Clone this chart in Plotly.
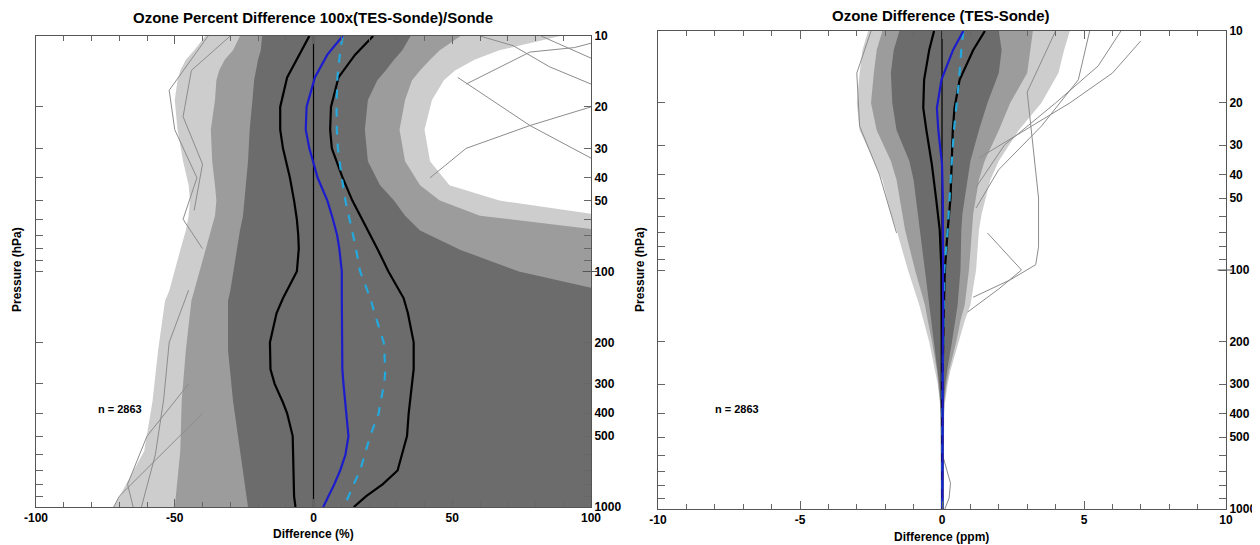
import plotly.graph_objects as go

# ---------------- Left panel: percent difference ----------------
P_STAT_L = [10, 12, 15, 20, 25, 30, 40, 50, 60, 70, 80, 100, 130, 150, 200, 260, 300, 360, 400, 500, 600, 700, 800, 900, 1000]
MEAN_L = [10.5, 5.0, 0.5, -2.5, -2.8, -1.5, 1.5, 5.0, 7.0, 8.5, 9.3, 10.2, 10.2, 10.2, 10.2, 10.4, 10.8, 11.4, 11.8, 12.6, 11.5, 9.6, 7.5, 5.3, 3.5]
RMS_L = [10.5, 9.5, 8.6, 8.3, 8.4, 8.8, 10.2, 11.5, 13.0, 14.3, 15.3, 16.8, 20.5, 22.0, 25.3, 25.9, 25.5, 24.1, 23.5, 20.4, 18.5, 16.8, 14.5, 12.5, 11.0]
LOW_L = [-1.5, -5.0, -9.5, -12.0, -12.0, -11.0, -8.5, -7.0, -6.0, -5.5, -5.3, -6.0, -11.0, -13.3, -15.7, -15.5, -14.0, -11.0, -9.5, -7.5, -7.3, -7.3, -7.0, -7.0, -6.5]
HIGH_L = [21.5, 15.0, 9.0, 6.3, 6.0, 6.6, 10.5, 14.0, 17.5, 20.5, 23.0, 27.0, 32.5, 34.0, 36.1, 36.1, 35.5, 34.7, 34.3, 33.7, 32.0, 30.3, 25.0, 19.0, 14.5]

P_ENV_L = [10, 11.5, 12.6, 14, 15.4, 18.7, 25, 34, 43, 50, 58, 67, 81, 100, 121, 133, 216, 355, 578, 1000]
SPARSE_LO_L = [-39, -43, -46, -48, -49, -50, -49, -47, -45, -44.5, -45, -46, -48, -50, -52, -53.5, -56, -58, -61, -72]
SPARSE_HI_L = [89, 67, 58, 51, 47, 42.7, 40, 42, 49, 67, 105, 105, 105, 105, 105, 105, 105, 105, 105, 105]
MED_LO_L = [-26.5, -29, -32, -34, -35, -35.5, -37, -36.5, -35.5, -35, -35.5, -37, -39, -41, -43, -44, -46, -47.5, -48, -50]
MED_HI_L = [53, 45.5, 42, 38.4, 35.5, 33, 31, 33, 38.4, 45.5, 60, 105, 105, 105, 105, 105, 105, 105, 105, 105]
DENSE_LO_L = [-18.5, -19, -20, -20.7, -21.4, -22, -23, -23.6, -24.3, -24.7, -25.4, -26.5, -27.6, -29, -30, -30.8, -30.8, -29, -26.5, -23.6]
DENSE_HI_L = [35, 32, 29, 26, 23, 19.6, 18.5, 19.6, 24, 29, 33, 38.4, 53, 74, 105, 105, 105, 105, 105, 105]

OUT_P_L = [[15, 24, 33, 40], [40, 30, 24, 20, 18], [16, 11.7, 11.2, 10], [10, 17, 25, 40, 60, 80],
           [300, 500, 800, 1000], [400, 600, 900, 1000], [10, 12.5, 14], [10, 11, 13.5, 16],
           [10, 14, 22, 35, 55], [120, 200, 350, 600, 1000]]
OUT_X_L = [[52, 78, 100, 110], [42, 55, 78, 100, 110], [55, 78, 94, 110], [-38, -52, -50, -42, -47, -40],
           [-45, -60, -67, -65], [-40, -55, -70, -72], [82, 100, 110], [60, 72, 85, 100],
           [-30, -44, -47, -40, -43], [-45, -52, -54, -57, -62]]

# ---------------- Right panel: absolute difference (ppm) ----------------
P_STAT_R = [10, 12, 16, 21, 26, 36, 50, 68, 100, 150, 200, 300, 500, 1000]
MEAN_R = [0.75, 0.39, -0.02, -0.18, -0.13, 0.0, 0.03, 0.04, 0.05, 0.04, 0.03, 0.02, 0.01, 0.01]
RMS_R = [0.75, 0.68, 0.6, 0.49, 0.42, 0.34, 0.28, 0.2, 0.08, 0.05, 0.04, 0.02, 0.01, 0.01]
LOW_R = [-0.28, -0.45, -0.63, -0.66, -0.55, -0.36, -0.21, -0.08, -0.02, -0.01, -0.01, 0.0, 0.0, 0.0]
HIGH_R = [1.51, 1.1, 0.62, 0.44, 0.38, 0.34, 0.3, 0.2, 0.1, 0.06, 0.04, 0.02, 0.01, 0.01]

P_ENV_R = [10, 12, 15, 20, 26, 35, 42, 58, 68, 100, 140, 163, 200, 263, 300, 363, 400, 600, 1000]
SPARSE_LO_R = [-2.6, -2.8, -2.9, -3.0, -2.9, -2.4, -2.1, -1.8, -1.6, -1.2, -0.8, -0.65, -0.45, -0.25, -0.15, -0.07, -0.05, -0.04, -0.03]
SPARSE_HI_R = [4.5, 4.3, 4.1, 3.5, 2.7, 2.0, 1.7, 1.4, 1.3, 1.2, 1.0, 0.8, 0.6, 0.3, 0.2, 0.1, 0.08, 0.06, 0.05]
MED_LO_R = [-2.1, -2.3, -2.4, -2.5, -2.3, -1.8, -1.6, -1.4, -1.3, -0.95, -0.6, -0.5, -0.35, -0.18, -0.12, -0.06, -0.04, -0.03, -0.03]
MED_HI_R = [3.2, 3.1, 3.0, 2.4, 2.0, 1.5, 1.3, 1.1, 1.05, 0.95, 0.8, 0.65, 0.5, 0.25, 0.16, 0.08, 0.07, 0.05, 0.05]
DENSE_LO_R = [-1.5, -1.7, -1.8, -1.75, -1.6, -1.15, -1.0, -0.85, -0.78, -0.6, -0.45, -0.36, -0.28, -0.14, -0.1, -0.05, -0.04, -0.03, -0.02]
DENSE_HI_R = [2.0, 2.1, 2.0, 1.6, 1.3, 1.0, 0.9, 0.72, 0.68, 0.65, 0.55, 0.46, 0.35, 0.18, 0.12, 0.06, 0.05, 0.04, 0.04]

OUT_P_R = [[10, 14, 20, 30, 45], [10, 16, 25, 38, 55], [10, 18, 30, 50, 80, 95, 110, 130], [11, 15, 20, 34],
           [10, 15, 25, 40, 70], [70, 100, 120, 150], [600, 780, 900, 1000]]
OUT_X_R = [[6.3, 5.5, 4.0, 2.2, 1.2], [5.2, 4.8, 3.5, 2.0, 1.2], [4.0, 3.0, 3.2, 3.4, 3.4, 3.3, 2.4, 1.1],
           [7.0, 6.0, 4.5, 1.3], [-2.5, -3.0, -2.9, -2.2, -1.6], [1.6, 2.8, 2.0, 0.9], [0.03, 0.3, 0.25, 0.1]]

ZERO_X = [0, 0]
P_SPAN = [10, 1000]
N_PROFILES = 2863

P_TICKS = [10, 20, 30, 40, 50, 60, 70, 80, 90, 100, 200, 300, 400, 500, 600, 700, 800, 900, 1000]
P_LABELED = [10, 20, 30, 40, 50, 100, 200, 300, 400, 500, 1000]
X_TICKS_L = [-100, -50, 0, 50, 100]
X_TICKS_R = [-10, -5, 0, 5, 10]

TITLE_L = "Ozone Percent Difference 100x(TES-Sonde)/Sonde"
TITLE_R = "Ozone Difference (TES-Sonde)"
XLAB_L = "Difference (%)"
XLAB_R = "Difference (ppm)"
YLAB = "Pressure (hPa)"

FONT = "Liberation Sans, Arial, sans-serif"
C_SPARSE = "#cdcdcd"
C_MED = "#9c9c9c"
C_DENSE = "#6c6c6c"

fig = go.Figure()


def band(lo, hi, p, color, xa, ya):
    fig.add_trace(go.Scatter(x=list(lo) + list(hi)[::-1], y=list(p) + list(p)[::-1],
                             mode="lines", fill="toself", fillcolor=color,
                             line=dict(width=0, color=color), hoverinfo="skip",
                             showlegend=False, xaxis=xa, yaxis=ya))


def panel(xa, ya, penv, bands, outp, outx, pst, low, high, mean, rms):
    for lo, hi, c in bands:
        band(lo, hi, penv, c, xa, ya)
    for pp, xx in zip(outp, outx):
        fig.add_trace(go.Scatter(x=xx, y=pp, mode="lines", line=dict(color="#8c8c8c", width=1),
                                 showlegend=False, hoverinfo="skip", xaxis=xa, yaxis=ya))
    for arr in (low, high):
        fig.add_trace(go.Scatter(x=arr, y=pst, mode="lines", line=dict(color="black", width=2.2),
                                 showlegend=False, xaxis=xa, yaxis=ya))
    fig.add_trace(go.Scatter(x=ZERO_X, y=P_SPAN, mode="lines", line=dict(color="black", width=1.2),
                             showlegend=False, xaxis=xa, yaxis=ya))
    fig.add_trace(go.Scatter(x=rms, y=pst, mode="lines", line=dict(color="#25a8dc", width=2.2, dash="dash"),
                             showlegend=False, xaxis=xa, yaxis=ya))
    fig.add_trace(go.Scatter(x=mean, y=pst, mode="lines", line=dict(color="#1c1ccc", width=2.2),
                             showlegend=False, xaxis=xa, yaxis=ya))


panel("x", "y", P_ENV_L,
      [(SPARSE_LO_L, SPARSE_HI_L, C_SPARSE), (MED_LO_L, MED_HI_L, C_MED), (DENSE_LO_L, DENSE_HI_L, C_DENSE)],
      OUT_P_L, OUT_X_L, P_STAT_L, LOW_L, HIGH_L, MEAN_L, RMS_L)
panel("x2", "y2", P_ENV_R,
      [(SPARSE_LO_R, SPARSE_HI_R, C_SPARSE), (MED_LO_R, MED_HI_R, C_MED), (DENSE_LO_R, DENSE_HI_R, C_DENSE)],
      OUT_P_R, OUT_X_R, P_STAT_R, LOW_R, HIGH_R, MEAN_R, RMS_R)

# page body has an 8px margin: figure is laid out in reference pixels minus that offset
OFF = 8
W, H = 1260 - OFF, 545 - OFF
L_BOX = (36, 591, 36, 507)
R_BOX = (658, 1226, 31, 509)


def px(x):
    return (x - OFF) / W


def py(y):
    return 1 - (y - OFF) / H


tickfont = dict(family=FONT, size=12, color="black", weight="bold")
ytext = [str(v) if v in P_LABELED else "" for v in P_TICKS]


def xaxis_cfg(box, rng, majors, minor, anchor):
    return dict(domain=[px(box[0]), px(box[1])], range=rng, showgrid=False, zeroline=False,
                showline=True, linecolor="#555555", linewidth=1, mirror="ticks",
                ticks="inside", ticklen=8, tickcolor="#666666", tickwidth=1,
                tickmode="array", tickvals=majors, ticktext=[str(v) for v in majors],
                tickfont=tickfont, anchor=anchor, automargin=False,
                minor=dict(tickmode="linear", tick0=0, dtick=minor, ticks="inside", ticklen=5,
                           tickcolor="#666666", showgrid=False),
                fixedrange=True)


def yaxis_cfg(box, anchor):
    return dict(domain=[py(box[3]), py(box[2])], type="log", range=[3, 1], side="right",
                anchor=anchor, showgrid=False, zeroline=False, showline=True, linecolor="#555555",
                linewidth=1, mirror="ticks", ticks="inside", ticklen=7, tickcolor="#666666",
                tickmode="array", tickvals=P_TICKS, ticktext=ytext, tickfont=tickfont,
                automargin=False, fixedrange=True)


fig.update_layout(
    width=W, height=H, margin=dict(l=0, r=0, t=0, b=0, autoexpand=False),
    paper_bgcolor="white", plot_bgcolor="white", showlegend=False,
    xaxis=xaxis_cfg(L_BOX, [-100, 100], X_TICKS_L, 10, "y"),
    yaxis=yaxis_cfg(L_BOX, "x"),
    xaxis2=xaxis_cfg(R_BOX, [-10, 10], X_TICKS_R, 1, "y2"),
    yaxis2=yaxis_cfg(R_BOX, "x2"),
)

ann = []


def txt(x, y, s, size, angle=0):
    ann.append(dict(x=px(x), y=py(y), xref="paper", yref="paper", text=s, showarrow=False,
                    font=dict(family=FONT, size=size, color="black", weight="bold"),
                    textangle=angle, xanchor="center", yanchor="middle"))


txt(313, 18, TITLE_L, 15)
txt(941, 15, TITLE_R, 15)
txt(313, 534, XLAB_L, 12)
txt(941, 537, XLAB_R, 12)
txt(17, 270, YLAB, 12, -90)
txt(640, 270, YLAB, 12, -90)
txt(120, 409, f"n = {N_PROFILES}", 11)
txt(737, 409, f"n = {N_PROFILES}", 11)
fig.update_layout(annotations=ann)

# longer tick crossing the pressure axis at 100 hPa
for xr, yr in (("x domain", "y"), ("x2 domain", "y2")):
    fig.add_shape(type="line", xref=xr, yref=yr, x0=0.985, x1=1.012, y0=100, y1=100,
                  line=dict(color="#555555", width=1))

fig.write_html("out.html")
